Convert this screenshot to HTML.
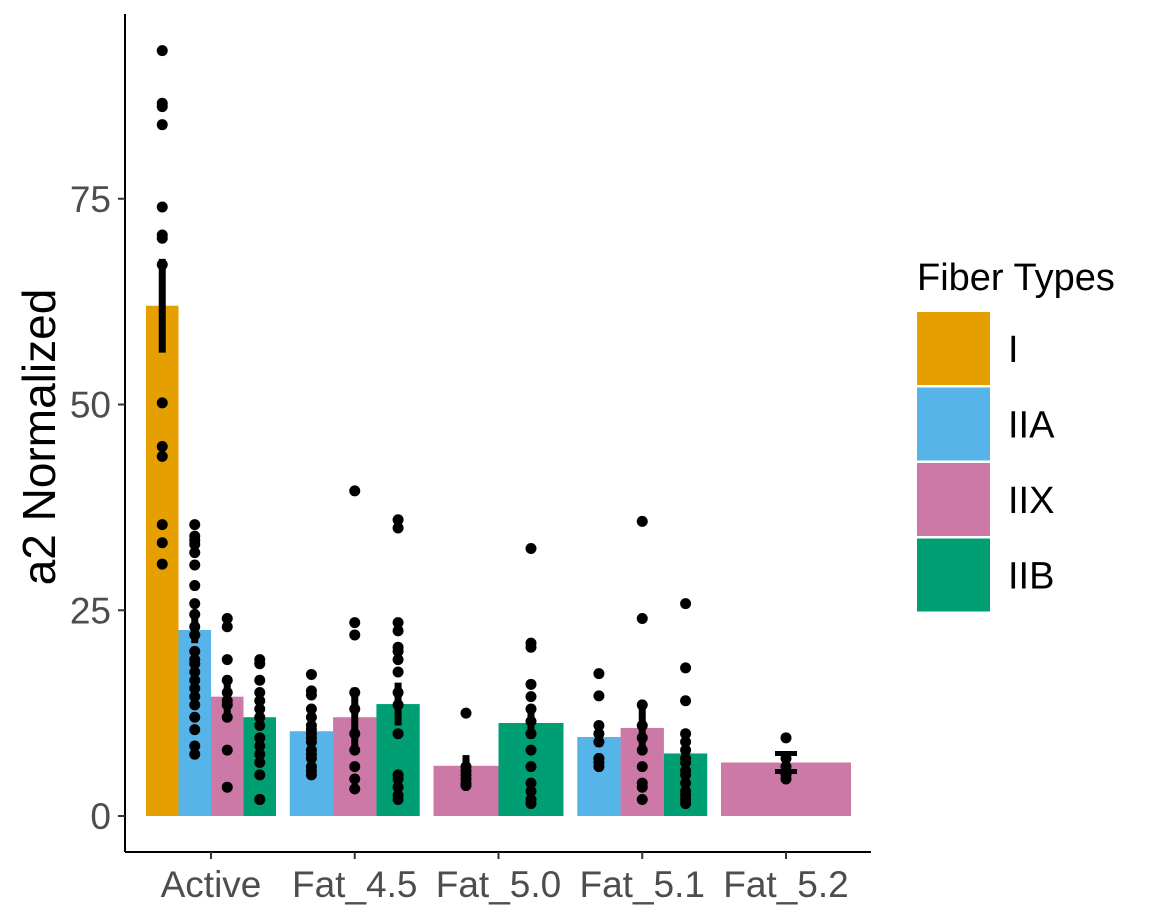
<!DOCTYPE html>
<html><head><meta charset="utf-8"><style>
body{margin:0;background:#fff;}
svg{display:block;font-family:"Liberation Sans",Arial,sans-serif;}
</style></head><body>
<svg id="chart" width="1152" height="921">
<g id="plot"></g>
<line x1="125" y1="14" x2="125" y2="852" stroke="#000" stroke-width="2"/>
<line x1="125" y1="852" x2="871" y2="852" stroke="#000" stroke-width="2"/>
<g id="yticks"></g>
<g id="xticks"></g>
<text x="55" y="437" font-size="46" text-anchor="middle" transform="rotate(-90 55 437)" fill="#000">a2 Normalized</text>
<g>
<text x="917" y="290" font-size="38" fill="#000">Fiber Types</text>
<g id="legend"></g>
</g>
</svg>
<script>
const categories=["Active","Fat_4.5","Fat_5.0","Fat_5.1","Fat_5.2"];
const fiberTypes=["I","IIA","IIX","IIB"];
const colors={"I":"#E69F00","IIA":"#56B4E9","IIX":"#CC79A7","IIB":"#009E73"};
const yTicks=[0,25,50,75];
// each group: [category, fiber, mean, se]
const groups=[
["Active","I",62,5.7],["Active","IIA",22.6,1.6],["Active","IIX",14.5,2],["Active","IIB",12,1.3],
["Fat_4.5","IIA",10.3,1],["Fat_4.5","IIX",12,3.6],["Fat_4.5","IIB",13.6,2.6],
["Fat_5.0","IIX",6.1,1.3],["Fat_5.0","IIB",11.3,1.9],
["Fat_5.1","IIA",9.6,1.2],["Fat_5.1","IIX",10.7,3],["Fat_5.1","IIB",7.6,1.6],
["Fat_5.2","IIX",6.5,1.1]];
const points=[
[93,86.6,86.2,84,74,70.6,70.2,67,50.2,44.9,43.7,35.4,33.2,30.6],
[35.4,34,33.5,33,32,30.5,28,25.8,24.5,23,22,20,19,18.5,17.5,16.5,15.5,14.5,13.5,12,10.5,8.5,7.5],
[24,23,19,16.5,15,14,13.5,12,8,3.5],
[19,18.5,16.5,15,14,13,12,11,9.5,8.5,7.5,6.5,5,2,2],
[17.2,15.2,14.7,13,12,11,10.5,10,9.5,9,8,7.5,7,6,5.5,5],
[39.5,23.5,22,15,13,10,8,6,4.5,3.3],
[36,35,23.5,22.5,20.5,20,19,17.5,15,13.5,10,5,4.5,3.5,2.5,2],
[12.5,6,5.5,5,4.5,4,3.7],
[32.5,21,20.5,16,14.5,13,11.5,10,8,6,4,3,2,1.5],
[17.3,14.6,11,10,9,7,6.5,6],
[35.8,24,13.5,11,9.5,8,6,4,3.5,2],
[25.8,18,14,10,9,8,7,6.5,5.5,5,4,3,2.5,2,1.5],
[9.5,7,6,5,4.5]];
const NS="http://www.w3.org/2000/svg";
const y=v=>816-v*8.23;
const xc=i=>211+i*143.75;
const band=130;
function mk(tag,attrs,parent){const e=document.createElementNS(NS,tag);for(const k in attrs)e.setAttribute(k,attrs[k]);parent.appendChild(e);return e;}
const plot=document.getElementById('plot');
categories.forEach((c,ci)=>{
  const gs=groups.map((g,i)=>[g,i]).filter(([g])=>g[0]===c);
  const w=band/gs.length;
  gs.forEach(([g,gi],k)=>{
    const x0=xc(ci)-band/2+k*w;
    const r=mk('rect',{x:x0,y:y(g[2]),width:w,height:y(0)-y(g[2]),fill:colors[g[1]]},plot);
    
    
  });
  gs.forEach(([g,gi],k)=>{
    const cx=xc(ci)-band/2+(k+0.5)*w;
    const eb=mk('line',{x1:cx,x2:cx,y1:y(g[2]+g[3]),y2:y(g[2]-g[3]),stroke:'#000','stroke-width':7},plot);
    
    
    if(gs.length===1){
      [g[2]+g[3],g[2]-g[3]].forEach(v=>{const cap=mk('line',{x1:cx-11,x2:cx+11,y1:y(v),y2:y(v),stroke:'#000','stroke-width':5},plot);
      
      });
    }
    points[gi].forEach(v=>{
      const p=mk('circle',{cx:cx,cy:y(v),r:5.5,fill:'#000'},plot);
      
      
    });
  });
});
const yt=document.getElementById('yticks');
yTicks.forEach(v=>{
  const l=mk('line',{x1:118,x2:125,y1:y(v),y2:y(v),stroke:'#333','stroke-width':2},yt);
  
  
  const t=mk('text',{x:111,y:y(v)+13,'font-size':37,'text-anchor':'end',fill:'#4d4d4d'},yt);
  t.textContent=v;
  
  
});
const xt=document.getElementById('xticks');
categories.forEach((c,i)=>{
  const l=mk('line',{x1:xc(i),x2:xc(i),y1:852,y2:859,stroke:'#333','stroke-width':2},xt);
  
  
  const t=mk('text',{x:xc(i),y:897,'font-size':37,'text-anchor':'middle',fill:'#4d4d4d'},xt);
  t.textContent=c;
  
  
});
const lg=document.getElementById('legend');
fiberTypes.forEach((f,i)=>{
  const top=312+i*75.5;
  const r=mk('rect',{x:917,y:top,width:73,height:73,fill:colors[f]},lg);
  
  
  const t=mk('text',{x:1008,y:top+50,'font-size':38,fill:'#000'},lg);
  t.textContent=f;
  
  
});
</script>
</body></html>
